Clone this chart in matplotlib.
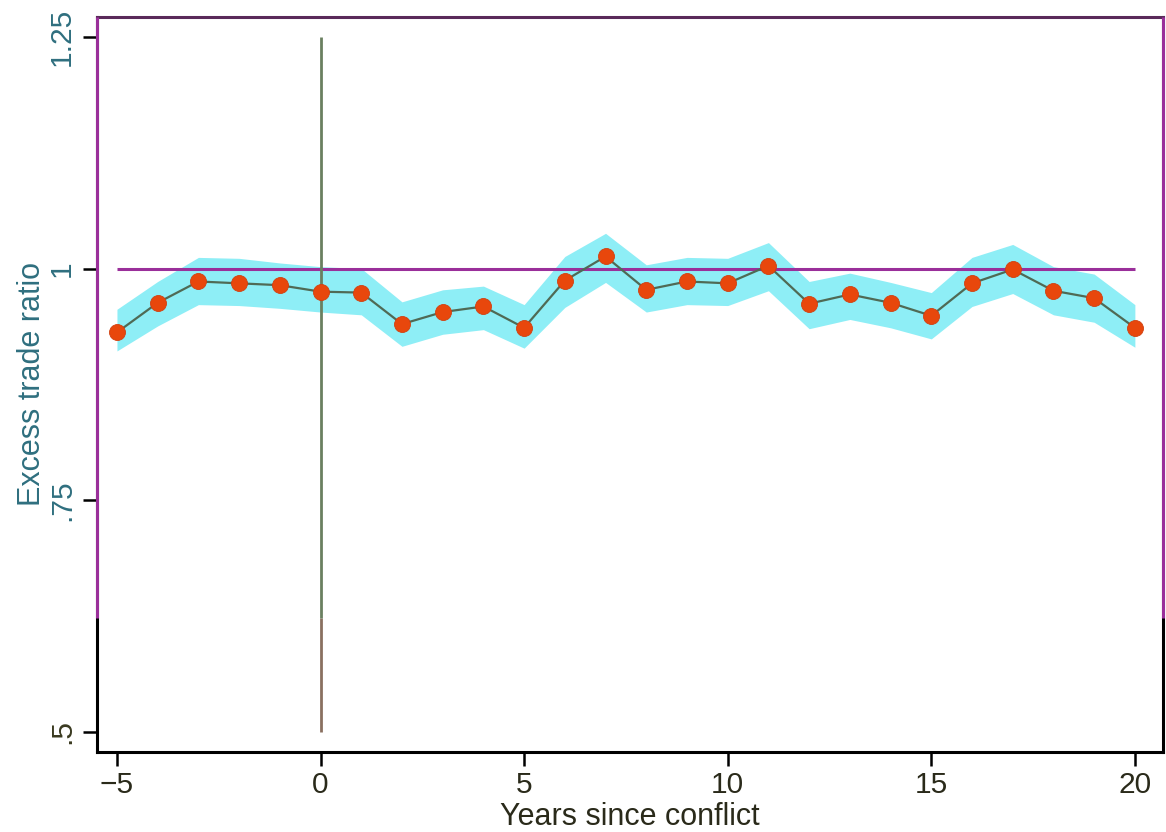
"""Excess trade ratio around conflict years, with confidence band."""

import matplotlib
matplotlib.use("Agg")
import matplotlib.pyplot as plt

# --- data ---
years = [-5, -4, -3, -2, -1, 0, 1, 2, 3, 4, 5, 6, 7, 8, 9, 10,
         11, 12, 13, 14, 15, 16, 17, 18, 19, 20]
ratio = [0.931, 0.963, 0.986, 0.984, 0.982, 0.975, 0.974, 0.940, 0.953,
         0.959, 0.936, 0.987, 1.013, 0.977, 0.986, 0.984, 1.003, 0.962,
         0.972, 0.963, 0.949, 0.984, 0.999, 0.976, 0.968, 0.936]
upper = [0.956, 0.986, 1.012, 1.011, 1.006, 1.002, 1.000, 0.964, 0.977,
         0.981, 0.961, 1.013, 1.038, 1.004, 1.012, 1.011, 1.028, 0.986,
         0.995, 0.985, 0.974, 1.012, 1.026, 1.002, 0.994, 0.961]
lower = [0.911, 0.938, 0.961, 0.960, 0.957, 0.953, 0.950, 0.916, 0.929,
         0.934, 0.914, 0.958, 0.985, 0.953, 0.961, 0.960, 0.976, 0.935,
         0.945, 0.936, 0.924, 0.959, 0.973, 0.950, 0.942, 0.915]
ref_level = 1.0
event_year = 0
event_span = (0.5, 1.25)
xticks = [-5, 0, 5, 10, 15, 20]
yticks = [0.5, 0.75, 1.0, 1.25]
ytick_labels = [".5", ".75", "1", "1.25"]

plt.rcParams["font.family"] = ["Liberation Sans", "DejaVu Sans"]

fig = plt.figure(figsize=(11.66, 8.32), dpi=100)
ax = fig.add_axes([0.0832, 0.0962, 0.9142, 0.8834])

band_col = "#8eeef6"
dot_col = "#e8470c"
line_col = "#4f6a55"
purple = "#9a2f9a"
ylab_col = "#2f6f7f"
xlab_col = "#2a2a1a"

ax.fill_between(years, lower, upper, color=band_col, linewidth=0, zorder=1)

# reference lines
ax.hlines(ref_level, years[0], years[-1], color=purple, linewidth=2.2, zorder=2)
split = 0.6225  # colour change of the event line (as in the source render)
ax.vlines(event_year, event_span[0], split, color="#8a7060", linewidth=2.0, zorder=2)
ax.vlines(event_year, split, event_span[1], color="#6a8060", linewidth=2.0, zorder=2)

ax.plot(years, ratio, color=line_col, linewidth=1.6, zorder=3)
ax.plot(years, ratio, linestyle="none", marker="o", markersize=11.5,
        markerfacecolor=dot_col, markeredgecolor="#d04010",
        markeredgewidth=0.6, zorder=4)

ax.set_xlim(-5.49, 20.69)
ax.set_ylim(0.478, 1.2716)

ax.set_xticks(xticks)
ax.set_yticks(yticks)
ax.set_yticklabels(ytick_labels, rotation=90, va="center")
ax.tick_params(axis="both", length=10, width=1.8, labelsize=21.5)
ax.tick_params(axis="x", pad=4, labelcolor=xlab_col)
ax.tick_params(axis="y", pad=5, labelcolor=ylab_col)
ax.get_yticklabels()[0].set_color("#3a3a20")

ax.set_xlabel("Years since conflict", fontsize=22, color=xlab_col, labelpad=2)
ax.set_ylabel("Excess trade ratio", fontsize=22, color=ylab_col, labelpad=1)

for side in ("left", "right", "bottom"):
    ax.spines[side].set_linewidth(2.2)
    ax.spines[side].set_color("black")
ax.spines["top"].set_linewidth(2.2)
ax.spines["top"].set_color("#5a2a5a")

# upper part of the side frame renders purple in the source image
for xa in (0.0, 1.0):
    ax.plot([xa, xa], [0.182, 1.0], transform=ax.transAxes, color=purple,
            linewidth=2.2, clip_on=False, zorder=5, solid_capstyle="butt")

fig.savefig("out.png", dpi=100)
